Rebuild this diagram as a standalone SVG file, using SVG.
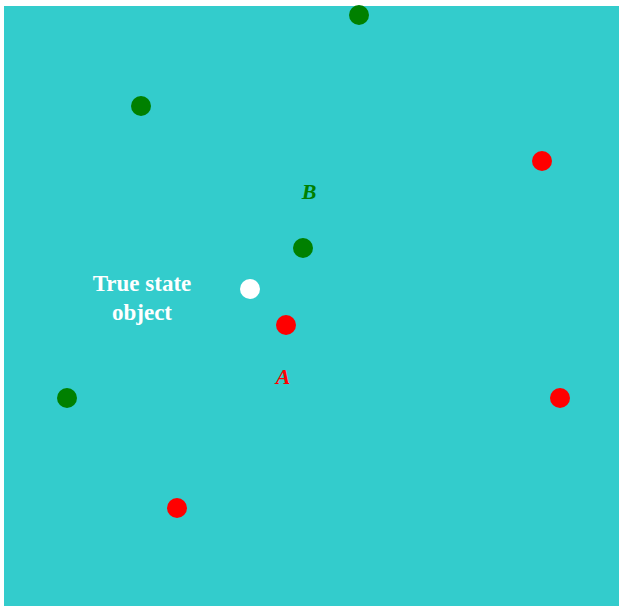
<svg xmlns="http://www.w3.org/2000/svg" width="619" height="606" viewBox="0 0 619 606">
<style>
.g{fill:#008000}
.r{fill:#ff0000}
.lbl{font-family:"Liberation Serif",serif;font-weight:bold;font-size:23px;text-anchor:middle}
.it{font-size:22px;font-style:italic}
</style>
<rect x="0" y="0" width="619" height="606" fill="#ffffff"/>
<rect x="4" y="6" width="615" height="600" fill="#33cccc"/>
<g id="g1"><circle class="g" cx="359" cy="15" r="10"/></g>
<g id="g2"><circle class="g" cx="141" cy="106" r="10"/></g>
<g id="g3"><circle class="g" cx="303" cy="248" r="10"/></g>
<g id="g4"><circle class="g" cx="67" cy="398" r="10"/></g>
<g id="r1"><circle class="r" cx="542" cy="161" r="10"/></g>
<g id="r2"><circle class="r" cx="286" cy="325" r="10"/></g>
<g id="r3"><circle class="r" cx="560" cy="398" r="10"/></g>
<g id="r4"><circle class="r" cx="177" cy="508" r="10"/></g>
<g id="truestate"><circle cx="250" cy="289" r="10" fill="#ffffff"/>
<text class="lbl" x="142" y="291" fill="#ffffff">True state</text>
<text class="lbl" x="142" y="320" fill="#ffffff">object</text></g>
<g id="labelB"><text class="lbl it" x="309" y="199" fill="#008000">B</text></g>
<g id="labelA"><text class="lbl it" x="283" y="384" fill="#ff0000">A</text></g>
<g id="connectors"></g>
</svg>
